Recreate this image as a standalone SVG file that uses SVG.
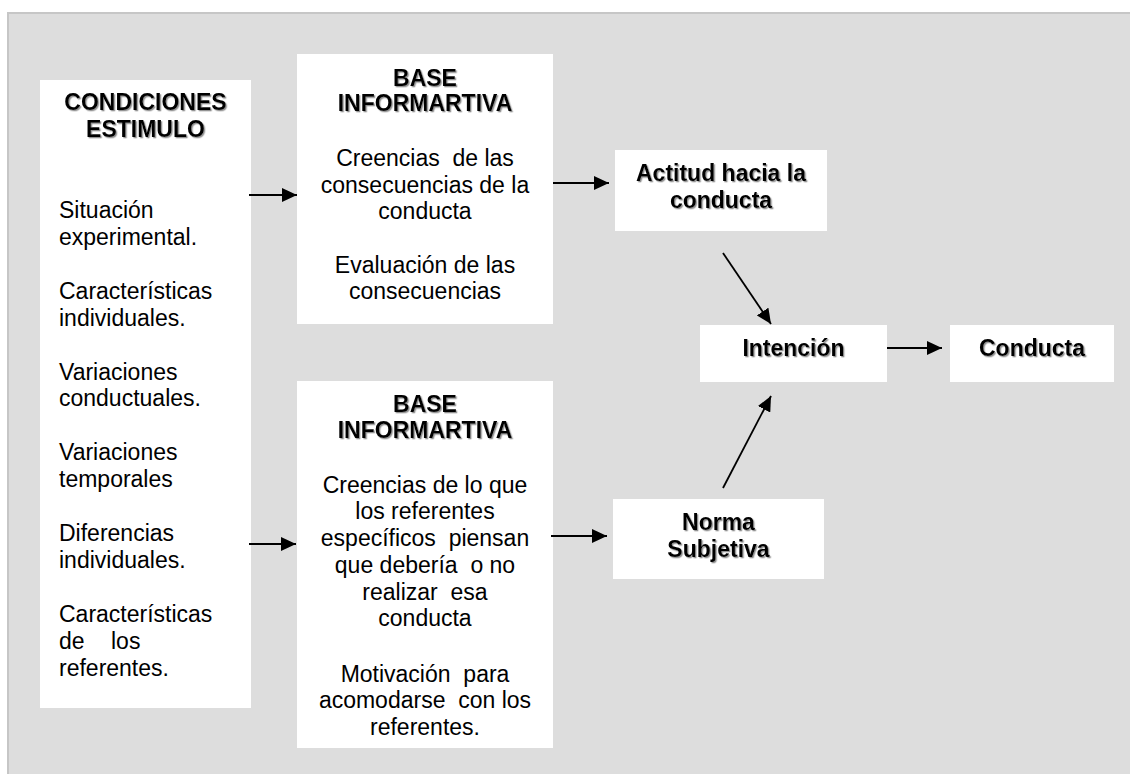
<svg xmlns="http://www.w3.org/2000/svg" width="1130" height="774" viewBox="0 0 1130 774">
<defs>
<style>
text{font-family:"Liberation Sans",Arial,sans-serif;font-size:23px;fill:#000}
.b{font-weight:bold;filter:url(#sh)}
.c{text-anchor:middle}
.box{fill:#fff}
.cn line{stroke:#000;stroke-width:1.8;marker-end:url(#ah)}
</style>
<filter id="sh" x="-5%" y="-20%" width="110%" height="140%">
<feDropShadow dx="1.3" dy="1.3" stdDeviation="0.5" flood-color="#777" flood-opacity="0.8"/>
</filter>
<marker id="ah" markerUnits="userSpaceOnUse" markerWidth="15" markerHeight="14" refX="15" refY="7" orient="auto">
<path d="M0,0 L15,7 L0,14 z" fill="#000"/>
</marker>
</defs>
<rect x="8" y="13" width="1140" height="780" fill="#dddddd" stroke="#c6c6c6" stroke-width="2"/>

<g id="condiciones">
<rect class="box" x="40" y="80" width="211" height="628"/>
<text class="b c" x="145.5" y="110">CONDICIONES</text>
<text class="b c" x="145.5" y="137">ESTIMULO</text>
<text x="59"><tspan x="59" y="218">Situación</tspan><tspan x="59" y="245">experimental.</tspan><tspan x="59" y="299">Características</tspan><tspan x="59" y="326">individuales.</tspan><tspan x="59" y="380">Variaciones</tspan><tspan x="59" y="406">conductuales.</tspan><tspan x="59" y="460">Variaciones</tspan><tspan x="59" y="487">temporales</tspan><tspan x="59" y="541">Diferencias</tspan><tspan x="59" y="568">individuales.</tspan><tspan x="59" y="622">Características</tspan><tspan x="59" y="649">de</tspan><tspan x="111" y="649">los</tspan><tspan x="59" y="676">referentes.</tspan></text>
</g>

<g id="base1">
<rect class="box" x="297" y="54" width="256" height="270"/>
<text class="b c" x="425" y="86">BASE</text>
<text class="b c" x="425" y="111">INFORMARTIVA</text>
<text class="c" xml:space="preserve"><tspan x="425" y="166">Creencias  de las</tspan><tspan x="425" y="193">consecuencias de la</tspan><tspan x="425" y="219">conducta</tspan><tspan x="425" y="273">Evaluación de las</tspan><tspan x="425" y="299">consecuencias</tspan></text>
</g>

<g id="base2">
<rect class="box" x="297" y="381" width="256" height="367"/>
<text class="b c" x="425" y="412">BASE</text>
<text class="b c" x="425" y="438">INFORMARTIVA</text>
<text class="c" xml:space="preserve"><tspan x="425" y="493">Creencias de lo que</tspan><tspan x="425" y="519">los referentes</tspan><tspan x="425" y="546">específicos  piensan</tspan><tspan x="425" y="573">que debería  o no</tspan><tspan x="425" y="600">realizar  esa</tspan><tspan x="425" y="626">conducta</tspan><tspan x="425" y="682">Motivación  para</tspan><tspan x="425" y="708">acomodarse  con los</tspan><tspan x="425" y="735">referentes.</tspan></text>
</g>

<g id="actitud">
<rect class="box" x="615" y="150" width="212" height="81"/>
<text class="b c" x="721" y="181">Actitud hacia la</text>
<text class="b c" x="721" y="208">conducta</text>
</g>

<g id="norma">
<rect class="box" x="613" y="499" width="211" height="80"/>
<text class="b c" x="718.5" y="530">Norma</text>
<text class="b c" x="718.5" y="557">Subjetiva</text>
</g>

<g id="intencion">
<rect class="box" x="700" y="325" width="187" height="57"/>
<text class="b c" x="793.5" y="356">Intención</text>
</g>

<g id="conducta">
<rect class="box" x="950" y="325" width="164" height="57"/>
<text class="b c" x="1032" y="356">Conducta</text>
</g>

<g id="connectors" class="cn">
<line x1="249" y1="195" x2="297" y2="195"/>
<line x1="249" y1="544" x2="296" y2="544"/>
<line x1="553" y1="183" x2="609" y2="183"/>
<line x1="551" y1="536" x2="607" y2="536"/>
<line x1="887" y1="348" x2="942" y2="348"/>
<line x1="723" y1="253" x2="771" y2="324"/>
<line x1="723" y1="488" x2="771" y2="396"/>
</g>
</svg>
